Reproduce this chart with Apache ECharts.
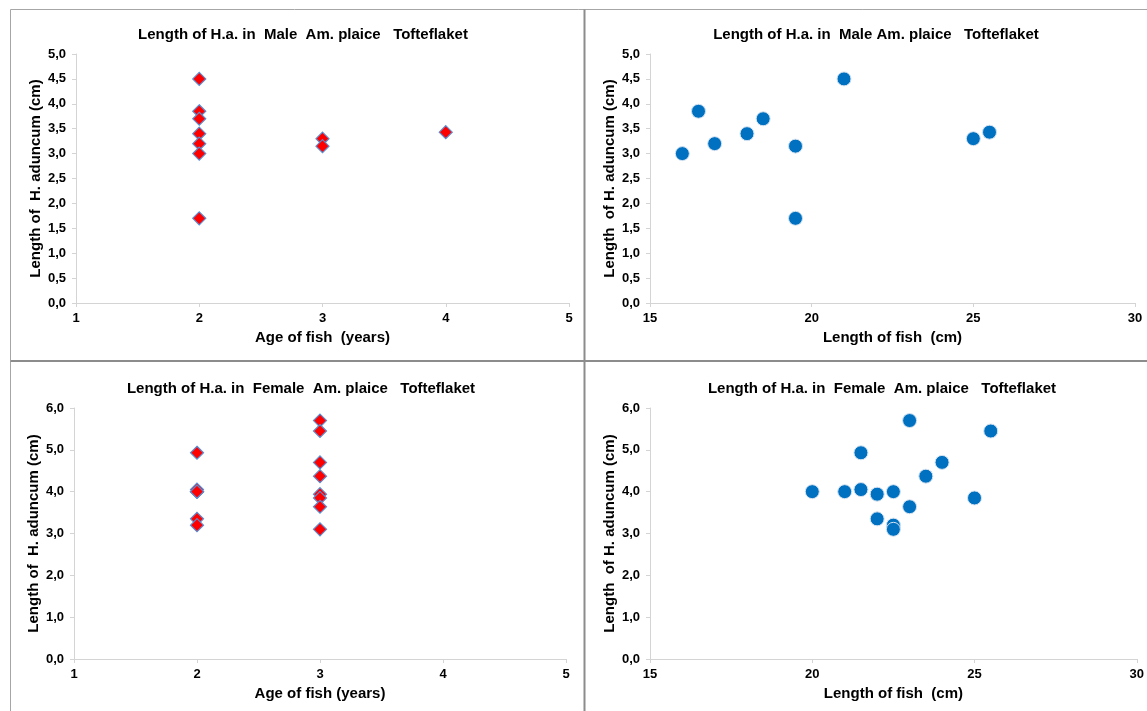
<!DOCTYPE html>
<html>
<head>
<meta charset="utf-8">
<title>Length of H.a. in Am. plaice, Tofteflaket</title>
<script src="https://cdn.jsdelivr.net/npm/echarts@6/dist/echarts.min.js"></script>
<style>
  html, body { margin: 0; padding: 0; background: #fff; }
  #chart { width: 1147px; height: 711px; }
</style>
</head>
<body>
<div id="chart"></div>
<script>
// Male fish: one entry per fish (age, fish length, parasite length)
const maleAge = [2, 2, 2, 2, 2, 2, 2, 3, 3, 4];
const maleFishLength = [21, 16.5, 18.5, 18, 17, 16, 19.5, 25, 19.5, 25.5];
const maleParasiteLength = [4.5, 3.85, 3.7, 3.4, 3.2, 3.0, 1.7, 3.3, 3.15, 3.43];

// Female fish
const femaleAge = [2, 2, 2, 2, 2, 2, 2, 3, 3, 3, 3, 3, 3, 3, 3];
const femaleFishLength = [21.5, 20, 21, 21.5, 22.5, 22, 22.5, 23, 25.5, 24, 23.5, 22, 25, 23, 22.5];
const femaleParasiteLength = [4.93, 4.0, 4.0, 4.05, 4.0, 3.35, 3.2, 5.7, 5.45, 4.7, 4.37, 3.94, 3.85, 3.64, 3.1];

const titles = [
  "Length of H.a. in  Male  Am. plaice   Tofteflaket",
  "Length of H.a. in  Male Am. plaice   Tofteflaket",
  "Length of H.a. in  Female  Am. plaice   Tofteflaket",
  "Length of H.a. in  Female  Am. plaice   Tofteflaket",
];
const xNames = ["Age of fish  (years)", "Length of fish  (cm)", "Age of fish (years)", "Length of fish  (cm)"];
const yNames = ["Length of  H. aduncum (cm)", "Length  of H. aduncum (cm)", "Length of  H. aduncum (cm)", "Length  of H. aduncum (cm)"];

const FONT = "'Liberation Sans', Arial, sans-serif";
const AXIS_GRAY = "#d4d4d4";

const pairs = (xs, ys) => xs.map((x, i) => [x, ys[i]]);
const commaLabel = (v) => v.toFixed(1).replace(".", ",");

const grids = [
  { left: 76, top: 54, width: 493, height: 249 },
  { left: 650, top: 54, width: 485, height: 249 },
  { left: 74, top: 408, width: 492, height: 251 },
  { left: 650, top: 408, width: 489, height: 251 },
];

const xRanges = [
  { min: 1, max: 5, interval: 1 },
  { min: 15, max: 30, interval: 5 },
  { min: 1, max: 5, interval: 1 },
  { min: 15, max: 30, interval: 5 },
];
const yRanges = [
  { min: 0, max: 5, interval: 0.5 },
  { min: 0, max: 5, interval: 0.5 },
  { min: 0, max: 6, interval: 1 },
  { min: 0, max: 6, interval: 1 },
];

const titleCenters = [[298, 22], [871, 22], [296, 376], [877, 376]];

const axisCommon = {
  axisLine: { lineStyle: { color: AXIS_GRAY, width: 1 } },
  axisTick: { show: true, inside: false, length: 4, lineStyle: { color: AXIS_GRAY } },
  splitLine: { show: false },
  axisLabel: { color: "#000", fontFamily: FONT, fontWeight: "bold", fontSize: 13 },
  nameLocation: "middle",
  nameTextStyle: { color: "#000", fontFamily: FONT, fontWeight: "bold", fontSize: 15 },
};

const xAxis = xRanges.map((r, i) => ({
  ...axisCommon,
  type: "value",
  gridIndex: i,
  min: r.min,
  max: r.max,
  interval: r.interval,
  name: xNames[i],
  nameGap: 27,
  axisLabel: { ...axisCommon.axisLabel, margin: 9 },
}));

const yAxis = yRanges.map((r, i) => ({
  ...axisCommon,
  type: "value",
  gridIndex: i,
  min: r.min,
  max: r.max,
  interval: r.interval,
  name: yNames[i],
  nameGap: 33,
  axisLabel: { ...axisCommon.axisLabel, margin: 10, formatter: commaLabel },
}));

const diamondStyle = { color: "#ff0000", borderColor: "#5b8bd0", borderWidth: 1.2, opacity: 1 };
const circleStyle = { color: "#0070c0", borderColor: "#d6e4f2", borderWidth: 1, opacity: 1 };

const series = [
  { data: pairs(maleAge, maleParasiteLength), symbol: "diamond", symbolSize: 13, itemStyle: diamondStyle },
  { data: pairs(maleFishLength, maleParasiteLength), symbol: "circle", symbolSize: 14, itemStyle: circleStyle },
  { data: pairs(femaleAge, femaleParasiteLength), symbol: "diamond", symbolSize: 13, itemStyle: diamondStyle },
  { data: pairs(femaleFishLength, femaleParasiteLength), symbol: "circle", symbolSize: 14, itemStyle: circleStyle },
].map((s, i) => ({ ...s, type: "scatter", xAxisIndex: i, yAxisIndex: i }));

// panel frames
const frameLine = (x1, y1, x2, y2, w, c) => ({
  type: "line",
  silent: true,
  shape: { x1, y1, x2, y2 },
  style: { stroke: c, lineWidth: w },
});

const chart = echarts.init(document.getElementById("chart"), null, { renderer: "canvas" });
chart.setOption({
  animation: false,
  backgroundColor: "#fff",
  title: titles.map((t, i) => ({
    text: t,
    left: titleCenters[i][0],
    top: titleCenters[i][1],
    textAlign: "center",
    textStyle: { color: "#000", fontFamily: FONT, fontWeight: "bold", fontSize: 15 },
  })),
  grid: grids,
  xAxis,
  yAxis,
  series,
  graphic: [
    frameLine(10.5, 9.5, 1147, 9.5, 1, "#a6a6a6"),
    frameLine(10.5, 9.5, 10.5, 711, 1, "#a6a6a6"),
    frameLine(584.5, 9.5, 584.5, 711, 2, "#8c8c8c"),
    frameLine(10.5, 361, 1147, 361, 2, "#8c8c8c"),
  ],
});
</script>
</body>
</html>
